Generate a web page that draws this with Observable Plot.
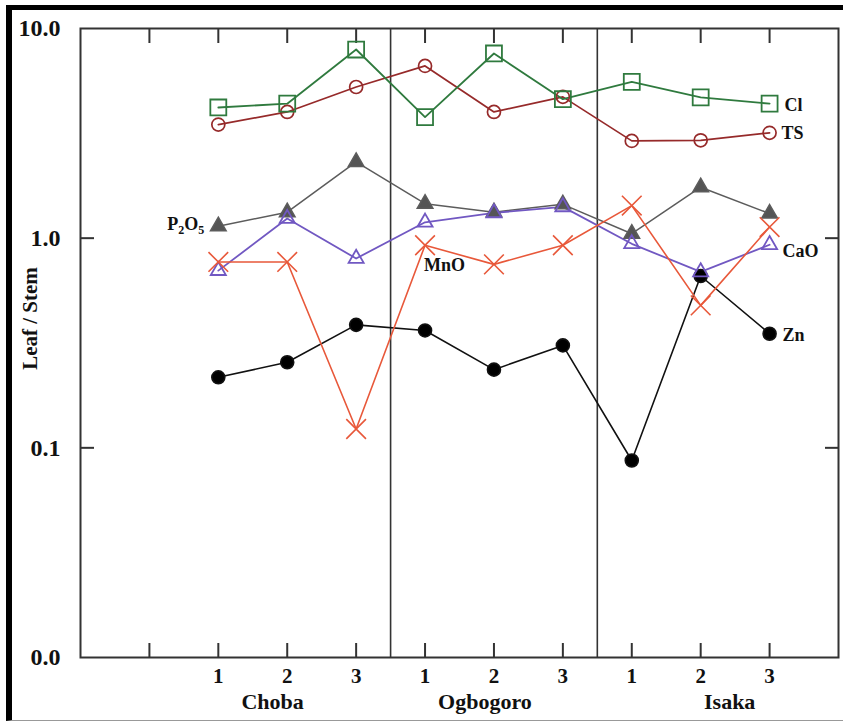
<!DOCTYPE html>
<html>
<head>
<meta charset="utf-8">
<script src="https://cdn.jsdelivr.net/npm/d3@7"></script>
<script src="https://cdn.jsdelivr.net/npm/@observablehq/plot@0.6"></script>
<style>
  html, body { margin: 0; padding: 0; background: #fff; }
  #wrap { position: relative; width: 843px; height: 722px; overflow: hidden; }
  #chart { position: absolute; left: 0; top: 0; }
  #border { position: absolute; left: 6px; top: 5px; width: 837px; height: 716px;
    box-sizing: border-box; border-left: 6px solid #000; border-top: 5px solid #000;
    border-bottom: 1px solid #999; pointer-events: none; }
</style>
</head>
<body>
<div id="wrap"><div id="chart"></div><div id="border"></div></div>
<script>
// ---- data ----
const groups = ["Choba", "Ogbogoro", "Isaka"];
const sampleLabels = ["1", "2", "3", "1", "2", "3", "1", "2", "3"];
const seriesNames = ["Zn", "P2O5", "CaO", "MnO", "TS", "Cl"];
const Cl   = [4.20, 4.38, 7.94, 3.78, 7.60, 4.60, 5.56, 4.69, 4.38];
const TS   = [3.48, 4.00, 5.26, 6.63, 4.00, 4.72, 2.91, 2.93, 3.18];
const P2O5 = [1.14, 1.33, 2.31, 1.46, 1.33, 1.45, 1.05, 1.75, 1.31];
const CaO  = [0.70, 1.24, 0.80, 1.19, 1.32, 1.41, 0.94, 0.69, 0.93];
const MnO  = [0.77, 0.77, 0.123, 0.925, 0.75, 0.925, 1.43, 0.478, 1.13];
const Zn   = [0.217, 0.256, 0.386, 0.363, 0.236, 0.308, 0.087, 0.66, 0.35];
const yTickValues = [10, 1, 0.1, 0.01];
const yTickLabels = ["10.0", "1.0", "0.1", "0.0"];

// ---- build table ----
const valuesBySeries = {Cl, TS, P2O5, CaO, MnO, Zn};
const rows = [];
for (const s of seriesNames) {
  valuesBySeries[s].forEach((v, i) => rows.push({series: s, i: i + 1, v}));
}
const groupRows = groups.map((g, k) => ({name: g, center: 3 * k + 2}));

// ---- styles ----
const style = {
  Cl:   {color: "#2f7a3e", symbol: "square",   r: 9,   fill: "none", sw: 1.8, label: {at: 9, dx: 15, dy: 2, anchor: "start"}},
  TS:   {color: "#962a2a", symbol: "circle",   r: 6.5, fill: "none", sw: 1.7, label: {at: 9, dx: 12, dy: 0, anchor: "start"}},
  P2O5: {color: "#5c5c5c", symbol: "triangle", r: 5.8, fill: "#555", sw: 1.5, label: {at: 1, dx: -14, dy: -2, anchor: "end"}},
  CaO:  {color: "#7158c2", symbol: "triangle", r: 5.6, fill: "none", sw: 1.8, label: {at: 9, dx: 13, dy: 6, anchor: "start"}},
  MnO:  {color: "#e8583a", symbol: "times",    r: 9,   fill: "none", sw: 1.6, label: {at: 4, dx: -1, dy: 20, anchor: "start"}},
  Zn:   {color: "#111111", symbol: "circle",   r: 6.5, fill: "#000", sw: 1.6, label: {at: 9, dx: 13, dy: 1, anchor: "start"}}
};
const groupDx = [-14.6, -9, 29];
const font = "Liberation Serif, Times New Roman, serif";

const marks = [
  Plot.frame({stroke: "#333", strokeWidth: 2}),
  Plot.ruleX([3.5, 6.5], {stroke: "#333", strokeWidth: 1.6}),
  // inward ticks
  Plot.axisX(d3.range(0, 10), {anchor: "bottom", tickSize: -14, fill: "none", stroke: "#333", strokeWidth: 2, label: null}),
  Plot.axisX(d3.range(0, 10), {anchor: "top", tickSize: -14, fill: "none", stroke: "#333", strokeWidth: 2, label: null}),
  Plot.axisY([1, 0.1], {anchor: "left", tickSize: -14, fill: "none", stroke: "#333", strokeWidth: 2, label: null}),
  Plot.axisY([1, 0.1], {anchor: "right", tickSize: -14, fill: "none", stroke: "#333", strokeWidth: 2, label: null}),
  // tick labels
  Plot.axisX(d3.range(1, 10), {anchor: "bottom", tickSize: 0, tickPadding: 11, fontSize: 21, fill: "#111",
    tickFormat: d => sampleLabels[d - 1], label: null}),
  Plot.axisY(yTickValues, {anchor: "left", tickSize: 0, tickPadding: 20, fontSize: 24, fill: "#111",
    tickFormat: d => yTickLabels[yTickValues.indexOf(d)], label: null}),
  // group labels
  ...groupRows.map((g, k) => Plot.text([g], {x: "center", frameAnchor: "bottom", text: "name", dy: 44, dx: groupDx[k],
    fontSize: 22, fill: "#111", lineAnchor: "middle", textAnchor: "middle"})),
  // y title
  Plot.text(["Leaf / Stem"], {frameAnchor: "left", text: d => d, rotate: -90, dx: -50, dy: -24.5,
    fontSize: 21, fill: "#111", lineAnchor: "middle", textAnchor: "middle"})
];

for (const s of seriesNames) {
  const st = style[s];
  const data = rows.filter(d => d.series === s);
  marks.push(Plot.line(data, {x: "i", y: "v", stroke: st.color, strokeWidth: st.sw}));
}
for (const s of seriesNames) {
  const st = style[s];
  const data = rows.filter(d => d.series === s);
  marks.push(Plot.dot(data, {x: "i", y: "v", symbol: st.symbol, r: st.r,
    stroke: st.color, fill: st.fill, strokeWidth: st.sw}));
  const lab = data.filter(d => d.i === st.label.at);
  marks.push(Plot.text(lab, {x: "i", y: "v", text: d => d.series, dx: st.label.dx, dy: st.label.dy,
    textAnchor: st.label.anchor, fontSize: 18, fill: "#111", lineAnchor: "middle"}));
}

const chart = Plot.plot({
  width: 843,
  height: 722,
  marginLeft: 80,
  marginRight: 5,
  marginTop: 28,
  marginBottom: 65,
  style: {fontFamily: font, fontWeight: "bold", background: "transparent", color: "#111", overflow: "visible"},
  x: {type: "linear", domain: [-1, 10], axis: null},
  y: {type: "log", domain: [0.01, 10], axis: null},
  marks
});

// P2O5 with subscripts
d3.select(chart).selectAll("text").each(function() {
  if (this.textContent === "P2O5") {
    const t = d3.select(this);
    t.text(null);
    t.append("tspan").text("P");
    t.append("tspan").attr("font-size", 12).attr("dy", 4).text("2");
    t.append("tspan").attr("dy", -4).text("O");
    t.append("tspan").attr("font-size", 12).attr("dy", 4).text("5");
  }
});

document.getElementById("chart").appendChild(chart);
</script>
</body>
</html>
